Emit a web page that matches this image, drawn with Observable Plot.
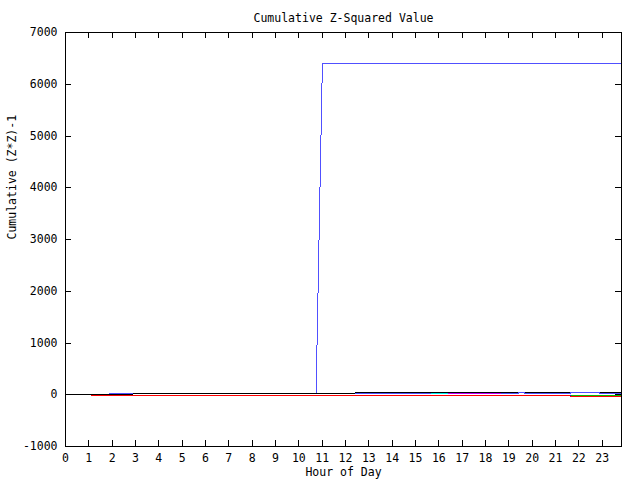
<!DOCTYPE html>
<html>
<head>
<meta charset="utf-8">
<script src="https://cdn.jsdelivr.net/npm/d3@7"></script>
<script src="https://cdn.jsdelivr.net/npm/@observablehq/plot@0.6"></script>
<style>
  html, body { margin: 0; padding: 0; background: #ffffff; }
</style>
</head>
<body>
<div id="chart"></div>
<script>
// ---- data ----
const title = "Cumulative Z-Squared Value";
const xLabel = "Hour of Day";
const yLabel = "Cumulative (Z*Z)-1";
const hourTicks = [0,1,2,3,4,5,6,7,8,9,10,11,12,13,14,15,16,17,18,19,20,21,22,23];
const valueTicks = [-1000,0,1000,2000,3000,4000,5000,6000,7000];
const xDomain = [0, 23.83];
const yDomain = [-1000, 7000];

const bigHours   = [1.85, 10.74, 11.01, 23.83];
const bigValues  = [15, 15, 6400, 6400];
const blueHours  = [2.9, 23.83];
const blueValues = [-5, -5];
const redHours   = [1.1, 21.62, 21.67, 23.83];
const redValues  = [-24, -24, -43, -43];
const blackHours = [0, 2.85, 2.9, 12.35, 12.4, 23.83];
const blackValues= [0, 0, 15, 15, 34, 34];
const light2Hours  = [12.4, 15.65];
const light2Values = [15, 15];
const cyanHours  = [15.65, 16.4];
const cyanValues = [15, 15];
const magentaHours  = [16.4, 18.65];
const magentaValues = [15, 15];
const light3Hours  = [18.65, 19.4, 19.42, 19.68, 19.7, 21.62, 21.65, 22.88, 22.9, 23.83];
const light3Values = [15, 15, 53, 53, 15, 15, 53, 53, 15, 15];
const greenHours  = [21.65, 23.83];
const greenValues = [-24, -24];

const seriesList = [
  {name: "big",     hours: bigHours,     values: bigValues,     color: "#5050ff"},
  {name: "blue",    hours: blueHours,    values: blueValues,    color: "#0000ff"},
  {name: "red",     hours: redHours,     values: redValues,     color: "#ff0000"},
  {name: "black",   hours: blackHours,   values: blackValues,   color: "#000000"},
  {name: "light2",  hours: light2Hours,  values: light2Values,  color: "#5050ff"},
  {name: "cyan",    hours: cyanHours,    values: cyanValues,    color: "#00eeee"},
  {name: "magenta", hours: magentaHours, values: magentaValues, color: "#c000ff"},
  {name: "light3",  hours: light3Hours,  values: light3Values,  color: "#5050ff"},
  {name: "green",   hours: greenHours,   values: greenValues,   color: "#00c000"}
];

// ---- layout ----
const W = 640, H = 480;
const mL = 65, mR = 19, mT = 32, mB = 34;
const innerW = W - mL - mR, innerH = H - mT - mB;
const tick = 6;
const font = "'DejaVu Sans Mono', monospace";

const lineMarks = seriesList.map(s =>
  Plot.line(s.hours.map((h, i) => ({hour: h, value: s.values[i]})), {
    x: "hour", y: "value", stroke: s.color, strokeWidth: 1, shapeRendering: "crispEdges"
  })
);

const chart = Plot.plot({
  width: W, height: H,
  marginLeft: mL, marginRight: mR, marginTop: mT, marginBottom: mB,
  style: {fontFamily: font, fontSize: "11.5px", background: "#ffffff", color: "#000000"},
  x: {domain: xDomain},
  y: {domain: yDomain},
  marks: [
    ...lineMarks,
    Plot.frame({stroke: "#000000", strokeWidth: 1, shapeRendering: "crispEdges"}),
    // inward ticks on all four sides (gnuplot style)
    Plot.tickX(hourTicks, {x: d => d, insetTop: innerH - tick, stroke: "#000", shapeRendering: "crispEdges"}),
    Plot.tickX(hourTicks, {x: d => d, insetBottom: innerH - tick, stroke: "#000", shapeRendering: "crispEdges"}),
    Plot.tickY(valueTicks, {y: d => d, insetRight: innerW - tick, stroke: "#000", shapeRendering: "crispEdges"}),
    Plot.tickY(valueTicks, {y: d => d, insetLeft: innerW - tick, stroke: "#000", shapeRendering: "crispEdges"}),
    Plot.axisX({ticks: hourTicks, tickSize: 0, tickPadding: 7, tickFormat: d => String(d), label: null, fontSize: 11.5}),
    Plot.axisY({ticks: valueTicks, tickSize: 0, tickPadding: 8, tickFormat: d => String(d), label: null, fontSize: 11.5}),
    Plot.text([title], {text: d => d, frameAnchor: "top", dy: -19, fontSize: 11.5, fill: "#000"}),
    Plot.text([xLabel], {text: d => d, frameAnchor: "bottom", dy: 29, fontSize: 11.5, fill: "#000"}),
    Plot.text([yLabel], {text: d => d, frameAnchor: "left", dx: -53, rotate: -90, fontSize: 11.5, fill: "#000"})
  ]
});
document.getElementById("chart").appendChild(chart);
</script>
</body>
</html>
